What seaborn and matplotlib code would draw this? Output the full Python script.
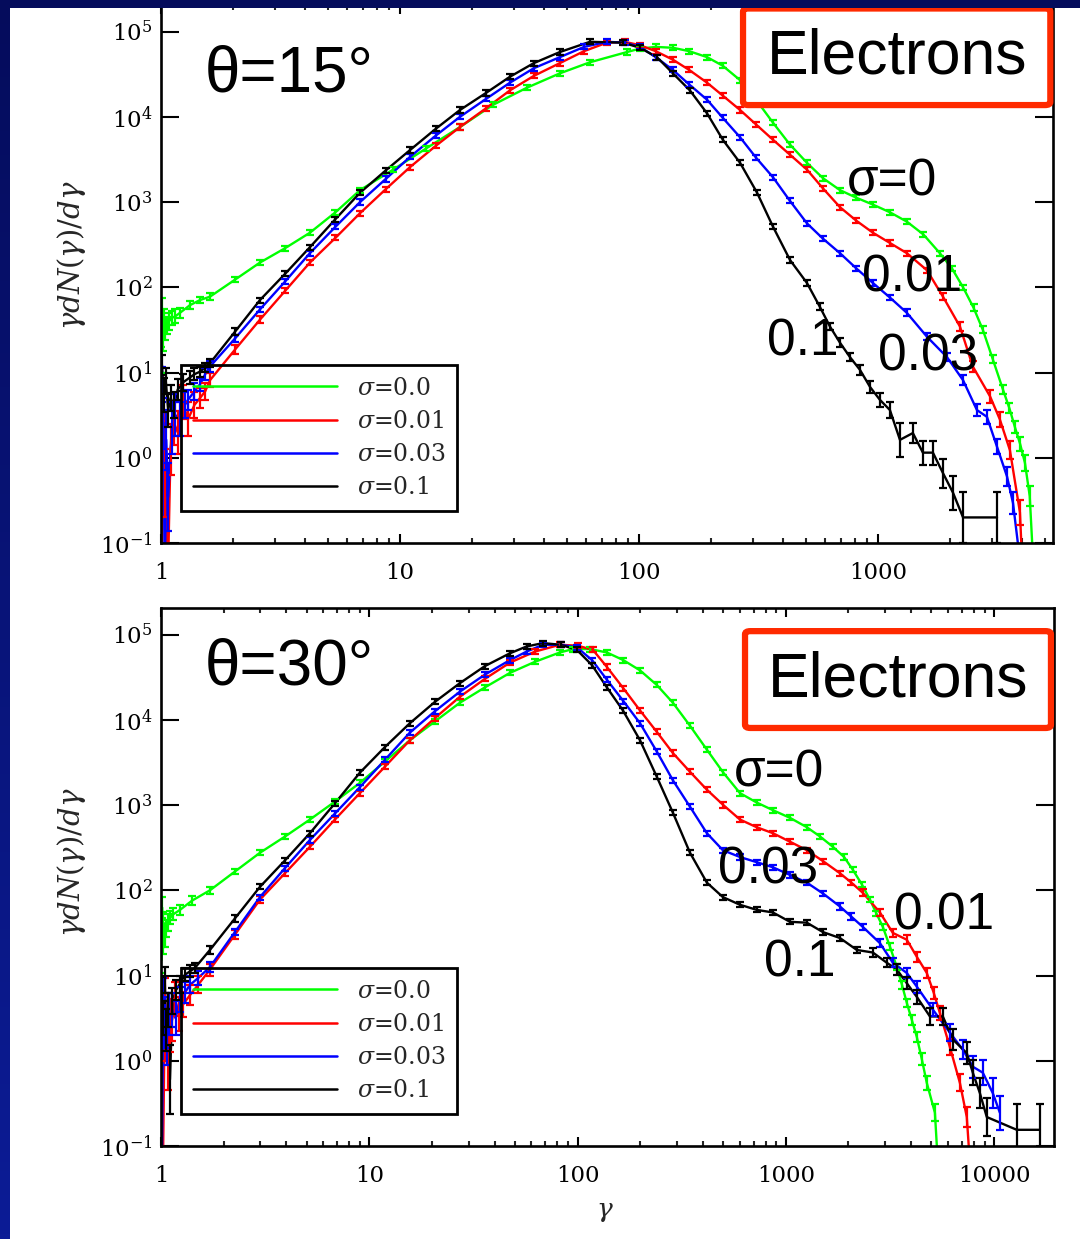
import numpy as np
import pandas as pd
import matplotlib
matplotlib.use("Agg")
import matplotlib.pyplot as plt
import seaborn as sns
from matplotlib.patches import Rectangle, FancyBboxPatch
from matplotlib.lines import Line2D
from matplotlib.legend_handler import HandlerLine2D
from matplotlib.colors import LinearSegmentedColormap
from matplotlib.ticker import (FixedLocator, FuncFormatter, LogLocator,
                               LogFormatterMathtext, NullLocator, NullFormatter)

# ---------------- data: (log10 gamma, log10 gamma dN/dgamma, error in dex) ----------------
SIGMA_LABELS = [r"$\sigma$=0.0", r"$\sigma$=0.01", r"$\sigma$=0.03", r"$\sigma$=0.1"]
COLORS = ["#00FF00", "#FF0000", "#0000FF", "#000000"]

T15_S000 = [(0.002,1.15,0.15),(0.005,1.75,0.12),(0.008,1.40,0.15),(0.012,1.62,0.12),(0.017,1.50,0.12),
            (0.024,1.55,0.10),(0.033,1.60,0.10),(0.045,1.64,0.08),(0.060,1.66,0.08),(0.079,1.70,0.06),
            (0.121,1.79,0.05),(0.163,1.85,0.04),(0.205,1.89,0.04),(0.31,2.09,0.03),(0.414,2.29,0.03),
            (0.52,2.46,0.03),(0.623,2.64,0.03),(0.73,2.88,0.03),(0.833,3.14,0.03),(0.971,3.38,0.03),
            (1.11,3.63,0.03),(1.251,3.88,0.03),(1.389,4.14,0.03),(1.53,4.34,0.03),(1.669,4.51,0.03),
            (1.795,4.64,0.03),(1.95,4.76,0.03),(2.004,4.80,0.03),(2.07,4.82,0.03),(2.142,4.81,0.03),
            (2.21,4.77,0.03),(2.285,4.70,0.03),(2.35,4.60,0.03),(2.423,4.43,0.03),(2.49,4.20,0.03),
            (2.561,3.93,0.03),(2.63,3.68,0.03),(2.703,3.46,0.03),(2.77,3.28,0.03),(2.841,3.14,0.03),
            (2.91,3.05,0.03),(2.979,2.97,0.03),(3.05,2.88,0.03),(3.121,2.77,0.03),(3.19,2.62,0.03),
            (3.259,2.40,0.03),(3.31,2.22,0.03),(3.356,2.00,0.03),(3.40,1.76,0.04),(3.439,1.50,0.04),
            (3.48,1.16,0.05),(3.523,0.80,0.05),(3.55,0.58,0.06),(3.573,0.36,0.07),(3.595,0.16,0.08),
            (3.615,-0.06,0.09),(3.635,-0.45,0.12),(3.649,-1.2,0.0)]

T15_S001 = [(0.004,-1.5,0.0),(0.010,0.68,0.25),(0.018,-0.30,0.4),(0.028,-1.5,0.0),(0.040,0.10,0.3),
            (0.055,0.40,0.25),(0.070,0.30,0.25),(0.090,0.65,0.2),(0.113,0.45,0.2),(0.140,0.62,0.15),
            (0.163,0.70,0.12),(0.185,0.78,0.1),(0.205,0.91,0.08),(0.31,1.27,0.05),(0.414,1.62,0.04),
            (0.52,1.96,0.03),(0.623,2.29,0.03),(0.73,2.58,0.03),(0.833,2.87,0.03),(0.94,3.15,0.03),
            (1.042,3.41,0.03),(1.15,3.66,0.03),(1.251,3.88,0.03),(1.36,4.10,0.03),(1.46,4.31,0.03),
            (1.56,4.48,0.03),(1.669,4.63,0.03),(1.77,4.77,0.03),(1.866,4.87,0.03),(1.94,4.88,0.03),
            (2.004,4.84,0.03),(2.07,4.77,0.03),(2.142,4.67,0.03),(2.21,4.55,0.03),(2.285,4.40,0.03),
            (2.35,4.25,0.03),(2.423,4.08,0.03),(2.49,3.91,0.03),(2.561,3.73,0.03),(2.63,3.56,0.03),
            (2.703,3.38,0.03),(2.77,3.16,0.03),(2.841,2.94,0.03),(2.91,2.78,0.03),(2.979,2.64,0.03),
            (3.05,2.52,0.03),(3.121,2.40,0.03),(3.205,2.20,0.03),(3.272,1.89,0.04),(3.343,1.54,0.05),
            (3.397,1.07,0.06),(3.469,0.72,0.08),(3.51,0.45,0.09),(3.552,0.09,0.11),(3.594,-0.64,0.15),
            (3.603,-1.2,0.0)]

T15_S003 = [(0.004,0.86,0.2),(0.010,0.40,0.3),(0.016,-1.5,0.0),(0.022,0.21,0.35),(0.030,-0.46,0.4),
            (0.045,0.35,0.3),(0.060,0.50,0.25),(0.080,0.45,0.2),(0.100,0.62,0.15),(0.113,0.68,0.12),
            (0.140,0.78,0.1),(0.163,0.86,0.08),(0.185,0.98,0.07),(0.205,1.07,0.06),(0.31,1.40,0.04),
            (0.414,1.74,0.03),(0.52,2.07,0.03),(0.623,2.40,0.03),(0.73,2.71,0.03),(0.833,3.00,0.03),
            (0.94,3.27,0.03),(1.042,3.53,0.03),(1.15,3.78,0.03),(1.251,4.00,0.03),(1.36,4.21,0.03),
            (1.46,4.40,0.03),(1.56,4.57,0.03),(1.669,4.70,0.03),(1.77,4.82,0.03),(1.866,4.88,0.03),
            (1.94,4.87,0.03),(2.004,4.82,0.03),(2.07,4.70,0.03),(2.142,4.55,0.03),(2.21,4.38,0.03),
            (2.285,4.20,0.03),(2.35,3.99,0.03),(2.423,3.76,0.03),(2.49,3.52,0.03),(2.561,3.29,0.03),
            (2.63,3.02,0.03),(2.703,2.75,0.03),(2.77,2.57,0.03),(2.841,2.40,0.03),(2.91,2.22,0.03),
            (2.979,2.05,0.03),(3.05,1.88,0.03),(3.121,1.70,0.04),(3.205,1.42,0.04),(3.289,1.18,0.05),
            (3.356,0.91,0.06),(3.414,0.56,0.07),(3.456,0.48,0.08),(3.498,0.13,0.09),(3.54,-0.22,0.11),
            (3.565,-0.53,0.13),(3.594,-1.2,0.0)]

T15_S010 = [(0.004,1.09,0.12),(0.012,0.74,0.2),(0.020,0.90,0.15),(0.030,0.56,0.2),(0.040,0.70,0.15),
            (0.055,0.62,0.15),(0.070,0.80,0.12),(0.090,0.88,0.1),(0.120,0.94,0.08),(0.140,0.98,0.07),
            (0.163,1.01,0.06),(0.185,1.06,0.05),(0.205,1.11,0.05),(0.31,1.48,0.04),(0.414,1.85,0.03),
            (0.52,2.16,0.03),(0.623,2.47,0.03),(0.73,2.80,0.03),(0.833,3.11,0.03),(0.94,3.37,0.03),
            (1.042,3.61,0.03),(1.15,3.86,0.03),(1.251,4.08,0.03),(1.36,4.28,0.03),(1.46,4.47,0.03),
            (1.56,4.63,0.03),(1.669,4.76,0.03),(1.795,4.88,0.03),(1.933,4.87,0.03),(2.004,4.81,0.03),
            (2.075,4.70,0.03),(2.142,4.51,0.03),(2.213,4.31,0.03),(2.285,4.04,0.03),(2.351,3.73,0.03),
            (2.423,3.46,0.03),(2.494,3.11,0.03),(2.561,2.71,0.03),(2.632,2.32,0.03),(2.703,2.05,0.03),
            (2.757,1.77,0.04),(2.799,1.54,0.04),(2.841,1.35,0.05),(2.883,1.18,0.05),(2.925,1.03,0.06),
            (2.967,0.83,0.07),(3.008,0.68,0.08),(3.05,0.56,0.09),(3.092,0.21,0.2),(3.146,0.29,0.12),
            (3.188,0.06,0.14),(3.23,0.06,0.14),(3.272,-0.18,0.17),(3.314,-0.41,0.2),(3.356,-0.70,0.3),
            (3.498,-0.70,0.3)]

T30_S000 = [(0.002,1.18,0.15),(0.005,1.80,0.12),(0.008,1.40,0.15),(0.012,1.62,0.12),(0.017,1.45,0.12),
            (0.024,1.55,0.1),(0.033,1.62,0.1),(0.045,1.68,0.08),(0.060,1.72,0.07),(0.091,1.77,0.06),
            (0.15,1.88,0.05),(0.235,2.00,0.04),(0.355,2.22,0.03),(0.475,2.44,0.03),(0.595,2.63,0.03),
            (0.715,2.83,0.03),(0.835,3.04,0.03),(0.955,3.26,0.03),(1.075,3.51,0.03),(1.195,3.76,0.03),
            (1.315,3.98,0.03),(1.435,4.20,0.03),(1.555,4.38,0.03),(1.675,4.55,0.03),(1.795,4.68,0.03),
            (1.915,4.79,0.03),(1.978,4.83,0.03),(2.06,4.83,0.03),(2.141,4.79,0.03),(2.22,4.70,0.03),
            (2.30,4.58,0.03),(2.38,4.41,0.03),(2.458,4.20,0.03),(2.54,3.93,0.03),(2.621,3.65,0.03),
            (2.70,3.38,0.03),(2.78,3.14,0.03),(2.86,3.03,0.03),(2.938,2.94,0.03),(3.02,2.85,0.03),
            (3.101,2.74,0.03),(3.165,2.63,0.03),(3.226,2.51,0.03),(3.28,2.39,0.03),(3.322,2.24,0.03),
            (3.365,2.07,0.03),(3.404,1.89,0.03),(3.435,1.73,0.03),(3.466,1.57,0.04),(3.50,1.34,0.04),
            (3.533,1.10,0.04),(3.558,0.89,0.05),(3.581,0.68,0.05),(3.605,0.48,0.06),(3.629,0.28,0.06),
            (3.653,0.02,0.07),(3.677,-0.26,0.08),(3.716,-0.61,0.1),(3.73,-1.2,0.0)]

T30_S001 = [(0.008,-1.5,0.0),(0.019,0.72,0.25),(0.026,0.30,0.3),(0.034,0.01,0.35),(0.045,0.40,0.3),
            (0.053,0.48,0.25),(0.067,0.72,0.2),(0.085,0.55,0.2),(0.106,0.66,0.15),(0.139,0.77,0.12),
            (0.178,0.89,0.1),(0.235,1.07,0.07),(0.355,1.48,0.05),(0.475,1.89,0.04),(0.595,2.20,0.03),
            (0.715,2.51,0.03),(0.835,2.83,0.03),(0.955,3.14,0.03),(1.075,3.45,0.03),(1.195,3.76,0.03),
            (1.315,4.02,0.03),(1.435,4.27,0.03),(1.555,4.48,0.03),(1.675,4.67,0.03),(1.795,4.80,0.03),
            (1.915,4.88,0.03),(2.00,4.87,0.03),(2.074,4.82,0.03),(2.141,4.62,0.03),(2.22,4.37,0.03),
            (2.30,4.11,0.03),(2.38,3.86,0.03),(2.458,3.61,0.03),(2.54,3.39,0.03),(2.621,3.18,0.03),
            (2.70,3.00,0.03),(2.78,2.83,0.03),(2.86,2.74,0.03),(2.938,2.67,0.03),(3.02,2.57,0.03),
            (3.101,2.47,0.03),(3.18,2.34,0.03),(3.26,2.20,0.03),(3.315,2.09,0.03),(3.37,1.97,0.04),
            (3.452,1.74,0.04),(3.514,1.50,0.05),(3.581,1.42,0.05),(3.629,1.22,0.06),(3.677,1.03,0.06),
            (3.71,0.80,0.07),(3.74,0.56,0.08),(3.788,0.16,0.09),(3.836,-0.26,0.1),(3.869,-0.66,0.12),
            (3.884,-1.2,0.0)]

T30_S003 = [(0.004,-1.5,0.0),(0.010,0.72,0.25),(0.018,0.45,0.3),(0.029,0.25,0.3),(0.040,0.55,0.25),
            (0.053,0.60,0.2),(0.070,0.50,0.2),(0.091,0.72,0.15),(0.115,0.80,0.12),(0.139,0.89,0.1),
            (0.178,0.97,0.08),(0.235,1.10,0.06),(0.355,1.51,0.04),(0.475,1.92,0.03),(0.595,2.26,0.03),
            (0.715,2.59,0.03),(0.835,2.90,0.03),(0.955,3.21,0.03),(1.075,3.53,0.03),(1.195,3.85,0.03),
            (1.315,4.10,0.03),(1.435,4.33,0.03),(1.555,4.53,0.03),(1.675,4.70,0.03),(1.755,4.80,0.03),
            (1.834,4.88,0.03),(1.92,4.88,0.03),(1.997,4.85,0.03),(2.07,4.70,0.03),(2.141,4.47,0.03),
            (2.22,4.22,0.03),(2.30,3.96,0.03),(2.38,3.63,0.03),(2.458,3.29,0.03),(2.54,2.98,0.03),
            (2.621,2.67,0.03),(2.698,2.47,0.03),(2.78,2.39,0.03),(2.86,2.33,0.03),(2.938,2.27,0.03),
            (3.02,2.18,0.03),(3.101,2.09,0.03),(3.18,1.96,0.03),(3.26,1.81,0.04),(3.315,1.69,0.04),
            (3.37,1.57,0.04),(3.452,1.38,0.05),(3.514,1.15,0.05),(3.581,1.03,0.06),(3.629,0.87,0.07),
            (3.706,0.60,0.08),(3.788,0.33,0.1),(3.85,0.13,0.11),(3.898,-0.07,0.13),(3.946,-0.14,0.15),
            (3.994,-0.38,0.18),(4.028,-0.61,0.2)]

T30_S010 = [(0.005,0.83,0.15),(0.012,0.50,0.2),(0.018,0.95,0.15),(0.024,0.36,0.25),(0.033,0.60,0.2),
            (0.043,-0.22,0.4),(0.055,0.70,0.15),(0.072,0.83,0.12),(0.090,0.90,0.1),(0.115,1.01,0.08),
            (0.140,1.05,0.07),(0.163,1.09,0.06),(0.235,1.30,0.05),(0.355,1.67,0.04),(0.475,2.04,0.03),
            (0.595,2.35,0.03),(0.715,2.67,0.03),(0.835,3.02,0.03),(0.955,3.38,0.03),(1.075,3.68,0.03),
            (1.195,3.96,0.03),(1.315,4.21,0.03),(1.435,4.43,0.03),(1.555,4.63,0.03),(1.675,4.78,0.03),
            (1.755,4.86,0.03),(1.834,4.90,0.03),(1.92,4.88,0.03),(1.997,4.82,0.03),(2.07,4.64,0.03),
            (2.141,4.38,0.03),(2.218,4.11,0.03),(2.30,3.76,0.03),(2.381,3.33,0.03),(2.458,2.91,0.03),
            (2.54,2.44,0.03),(2.621,2.09,0.03),(2.698,1.92,0.03),(2.78,1.83,0.03),(2.861,1.77,0.03),
            (2.938,1.74,0.03),(3.02,1.63,0.03),(3.101,1.62,0.03),(3.178,1.51,0.04),(3.26,1.44,0.04),
            (3.341,1.30,0.04),(3.418,1.27,0.05),(3.485,1.15,0.05),(3.533,1.07,0.06),(3.581,0.91,0.07),
            (3.629,0.75,0.08),(3.692,0.52,0.1),(3.754,0.52,0.1),(3.802,0.25,0.12),(3.869,0.09,0.13),
            (3.898,-0.14,0.15),(3.932,-0.38,0.18),(3.965,-0.66,0.22),(4.109,-0.81,0.3),(4.22,-0.81,0.3)]

PANEL_TITLES = ["θ=15°", "θ=30°"]
X_TICKS_TOP = [1, 10, 100, 1000]
X_TICKS_BOTTOM = [1, 10, 100, 1000, 10000]
Y_TICKS = [1e-1, 1e0, 1e1, 1e2, 1e3, 1e4, 1e5]
CURVE_LABELS_TOP = ["σ=0", "0.01", "0.1", "0.03"]
CURVE_LABELS_BOTTOM = ["σ=0", "0.03", "0.01", "0.1"]


def make_frame(curves):
    parts = []
    for pts, lab in zip(curves, SIGMA_LABELS):
        a = np.array(pts, dtype=float)
        parts.append(pd.DataFrame({"gamma": 10.0 ** a[:, 0], "val": 10.0 ** a[:, 1],
                                   "err": a[:, 2], "sigma": lab}))
    return pd.concat(parts, ignore_index=True)


class InsetLine(HandlerLine2D):
    def create_artists(self, legend, orig_handle, xdescent, ydescent, width, height, fontsize, trans):
        arts = super().create_artists(legend, orig_handle, xdescent, ydescent, width, height, fontsize, trans)
        for a in arts:
            x = np.asarray(a.get_xdata(), dtype=float)
            if len(x) == 2:
                a.set_xdata([x[0] + 0.14 * width, x[1]])
        return arts


sns.set_theme(style="ticks")
plt.rcParams["font.family"] = ["DejaVu Serif"]
plt.rcParams["mathtext.fontset"] = "dejavuserif"
plt.rcParams["axes.linewidth"] = 1.9

W, H = 1080, 1239
fig = plt.figure(figsize=(W / 100, H / 100), dpi=100, facecolor="white")

ax_top = fig.add_axes([161 / W, 1 - 543 / H, 892 / W, 538 / H])
ax_bot = fig.add_axes([161 / W, 1 - 1146 / H, 893 / W, 538 / H])

panels = [
    (ax_top, [T15_S000, T15_S001, T15_S003, T15_S010], 5400, X_TICKS_TOP, PANEL_TITLES[0], 0.870,
     CURVE_LABELS_TOP, [(0.8195, 0.671), (0.842, 0.492), (0.7195, 0.373), (0.8599, 0.346)],
     (0.6525, 0.814, 0.3445, 0.1795)),
    (ax_bot, [T30_S000, T30_S001, T30_S003, T30_S010], 19400, X_TICKS_BOTTOM, PANEL_TITLES[1], 0.890,
     CURVE_LABELS_BOTTOM, [(0.692, 0.693), (0.680, 0.513), (0.877, 0.428), (0.7155, 0.340)],
     (0.654, 0.777, 0.3426, 0.180)),
]

for ax, curves, xmax, xticks, title, title_y, clabels, cpos, box in panels:
    ax.set_xscale("log")
    ax.set_yscale("log")
    df = make_frame(curves)
    sns.lineplot(data=df, x="gamma", y="val", hue="sigma", hue_order=SIGMA_LABELS,
                 palette=COLORS, estimator=None, sort=False, legend=False,
                 linewidth=1.7, ax=ax)
    for lab, col in zip(SIGMA_LABELS, COLORS):
        d = df[df["sigma"] == lab]
        lo = d["val"] * (1 - 10.0 ** (-d["err"]))
        hi = d["val"] * (10.0 ** d["err"] - 1)
        ax.errorbar(d["gamma"], d["val"], yerr=[lo, hi], fmt="none", ecolor=col,
                    elinewidth=1.6, capsize=3.0, capthick=1.6)
    ax.set_xlim(1, xmax)
    ax.set_ylim(0.1, 2.05e5)
    ax.set_xlabel("")
    ax.set_ylabel("")
    ax.xaxis.set_major_locator(FixedLocator(xticks))
    ax.xaxis.set_major_formatter(FuncFormatter(lambda v, p: f"{int(round(v))}"))
    ax.xaxis.set_minor_locator(LogLocator(base=10, subs=np.arange(2, 10), numticks=20))
    ax.xaxis.set_minor_formatter(NullFormatter())
    ax.yaxis.set_major_locator(FixedLocator(Y_TICKS))
    ax.yaxis.set_major_formatter(LogFormatterMathtext())
    ax.yaxis.set_minor_locator(NullLocator())
    ax.tick_params(axis="x", which="major", direction="in", length=6.5, width=1.5,
                   top=True, bottom=True, labelsize=16.5, pad=14, colors="black")
    ax.tick_params(axis="x", which="minor", direction="in", length=3.8, width=1.5,
                   top=True, bottom=True)
    ax.tick_params(axis="y", which="major", direction="in", length=13, width=1.5,
                   left=True, right=True, labelsize=16.5, pad=6, colors="black")
    for s in ax.spines.values():
        s.set_color("black")
        s.set_linewidth(1.9)

    ax.text(0.0493, title_y, title, transform=ax.transAxes, ha="left", va="center",
            family="Liberation Sans", fontsize=46, color="black", zorder=6)
    for txt, (px, py) in zip(clabels, cpos):
        ax.text(px, py, txt, transform=ax.transAxes, ha="center", va="center",
                family="Liberation Sans", fontsize=37, color="black", zorder=6)

    bx, by, bw, bh = box
    patch = FancyBboxPatch((bx, by), bw, bh, boxstyle="round,pad=0,rounding_size=0.006",
                           transform=ax.transAxes, facecolor="white", edgecolor="#FF2A00",
                           linewidth=4.5, zorder=5, clip_on=False)
    ax.add_patch(patch)
    ax.text(bx + bw / 2, by + bh / 2, "Electrons", transform=ax.transAxes, ha="center",
            va="center", family="Liberation Sans", fontsize=45, color="black", zorder=7)

    handles = [Line2D([0], [0], color=c, lw=1.8) for c in COLORS]
    leg = ax.legend(handles, SIGMA_LABELS, loc="upper left", bbox_to_anchor=(0.0224, 0.331),
                    borderaxespad=0, frameon=True, fancybox=False, fontsize=17,
                    framealpha=1.0, facecolor="none", edgecolor="black",
                    handlelength=6.1, handletextpad=0.85, labelspacing=0.43, borderpad=0.5,
                    handler_map={Line2D: InsetLine()})
    fr = leg.get_frame()
    fr.set_alpha(1.0)
    fr.set_facecolor("none")
    fr.set_edgecolor("black")
    fr.set_linewidth(2.0)

# axis labels
fig.text(72 / W, 1 - 255 / H, r"$\gamma dN(\gamma)/d\gamma$", rotation=90, ha="center",
         va="center", fontsize=21)
fig.text(72 / W, 1 - 862 / H, r"$\gamma dN(\gamma)/d\gamma$", rotation=90, ha="center",
         va="center", fontsize=21)
fig.text(605 / W, 1 - 1212 / H, r"$\gamma$", ha="center", va="center", fontsize=19)

# slide frame: navy strips (left and top)
grad = np.linspace(0, 1, 256).reshape(-1, 1)
strip_ax = fig.add_axes([0, 0, 10 / W, 1], zorder=20)
navy = LinearSegmentedColormap.from_list("navy", ["#0C1C96", "#050C5C"])
strip_ax.imshow(grad, aspect="auto", cmap=navy, origin="lower", extent=[0, 1, 0, 1])
strip_ax.set_axis_off()
fig.add_artist(Rectangle((0, 1 - 8 / H), 1, 8 / H, transform=fig.transFigure,
                         facecolor="#050C5C", edgecolor="none", zorder=30))

fig.savefig("out.png", dpi=100, facecolor="white")
